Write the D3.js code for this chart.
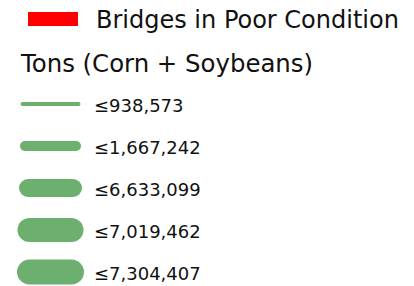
<!DOCTYPE html>
<html>
<head>
<meta charset="utf-8">
<script src="https://cdn.jsdelivr.net/npm/d3@7"></script>
<style>
  html, body { margin: 0; padding: 0; background: #fff; }
  svg text { font-family: "DejaVu Sans", Verdana, sans-serif; fill: #111; }
</style>
</head>
<body>
<div class="legend"></div>
<script>
const redLabel = "Bridges in Poor Condition";
const sizeTitle = "Tons (Corn + Soybeans)";
const classBreaks = [938573, 1667242, 6633099, 7019462, 7304407];

const width = 414;
const height = 286;

const svg = d3.select(".legend")
        .append("svg")
        .attr("width", width)
        .attr("height", height);

// red swatch + label
svg.append("rect")
        .attr("x", 28)
        .attr("y", 12)
        .attr("width", 50)
        .attr("height", 14)
        .attr("fill", "#ff0000");

svg.append("text")
        .attr("x", 96)
        .attr("y", 28)
        .attr("font-size", 24)
        .text(redLabel);

svg.append("text")
        .attr("x", 21)
        .attr("y", 72)
        .attr("font-size", 24.4)
        .text(sizeTitle);

// graduated symbol rows
const rowY = d3.scaleBand()
        .domain(classBreaks)
        .range([83, 293]);

const strokeW = d3.scaleOrdinal()
        .domain(classBreaks)
        .range([4, 10, 18, 24, 25]);

const halfLen = d3.scaleOrdinal()
        .domain(classBreaks)
        .range([28, 25.5, 22.5, 21, 21]);

const fmt = d3.format(",");

const rows = svg.selectAll("g.row")
        .data(classBreaks).enter()
        .append("g")
        .attr("class", "row")
        .attr("transform", d => `translate(0,${rowY(d) + rowY.bandwidth() / 2})`);

rows.append("line")
        .attr("x1", d => 50.5 - halfLen(d))
        .attr("x2", d => 50.5 + halfLen(d))
        .attr("stroke", "#6caf6f")
        .attr("stroke-width", d => strokeW(d))
        .attr("stroke-linecap", "round");

rows.append("text")
        .attr("x", 94)
        .attr("y", 8)
        .attr("font-size", 18)
        .text(d => "\u2264" + fmt(d));
</script>
</body>
</html>
